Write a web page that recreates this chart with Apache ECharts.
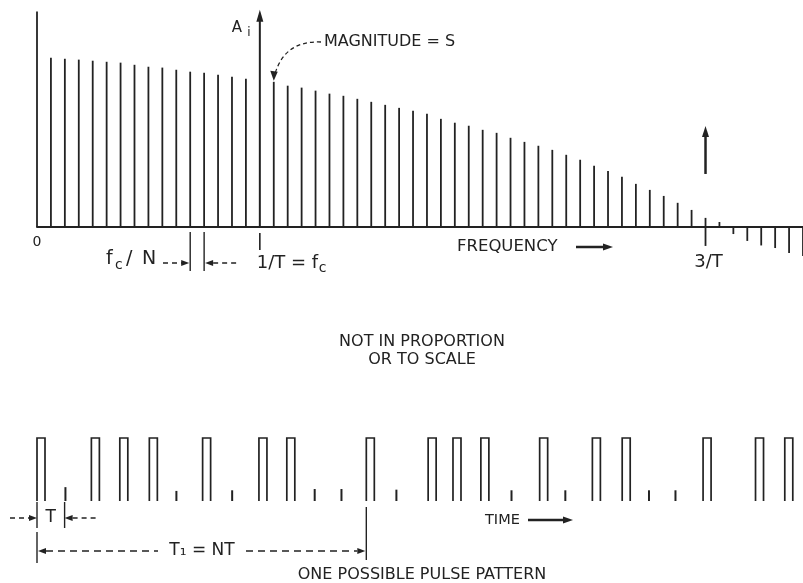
<!DOCTYPE html>
<html><head><meta charset="utf-8">
<script src="https://cdn.jsdelivr.net/npm/echarts@6/dist/echarts.min.js"></script>
<style>html,body{margin:0;padding:0;background:#fff}#c{width:803px;height:583px}</style>
</head><body><div id="c"></div>
<script>
// ---- Spectrum (harmonic index k, in units of fc/N) ----
const harmonicIndex = [0,1,2,3,4,5,6,7,8,9,10,11,12,13,14,15,
  17,18,19,20,21,22,23,24,25,26,27,28,29,30,31,32,33,34,35,36,37,38,39,40,
  41,42,43,44,45,46,47,48,49,50,51,52,53,54,55];
const harmonicAmplitude = [100,78.6,78.1,77.7,77.2,76.7,76.3,75.3,74.4,74.0,73.0,72.1,71.6,70.7,69.8,68.8,
  67.4,65.6,64.7,63.3,61.9,60.9,59.5,58.1,56.7,55.3,54.0,52.6,50.2,48.4,47.0,45.1,43.7,41.4,39.5,37.7,35.8,33.5,31.2,28.4,
  26.0,23.3,20.0,17.2,14.4,11.2,7.9,4.2,2.3,-3.3,-6.5,-8.6,-9.8,-12.1,-13.5];
const FC_INDEX = 16;       // 1/T = fc
const THIRD_INDEX = 48;    // 3/T
const MAGNITUDE_INDEX = 17;
const upArrowRange = [24.6, 46.9];

// ---- Pulse pattern (time, in units of T) ----
const pulseStarts = [0,1.97,3.0,4.07,6.0,8.04,9.05,11.93,14.17,15.07,16.08,18.21,20.12,21.2,24.13,26.03,27.09];
const zeroSlots = [1.03,5.05,7.07,10.06,11.03,13.02,17.19,19.14,22.17,23.13];
const zeroTickHeights = [0.22,0.16,0.17,0.19,0.19,0.18,0.17,0.17,0.17,0.17];
const PULSE_WIDTH = 0.29;
const PERIOD_END_PULSE = 7;

const INK = '#222';
const FONT = '"DejaVu Sans", sans-serif';
const chart = echarts.init(document.getElementById('c'), null, {renderer: 'canvas'});

const spectrum = harmonicIndex.map((k, i) => [k, harmonicAmplitude[i]]);
const pulses = pulseStarts.map(t => [t, 1]);
const zeros = zeroSlots.map((t, i) => [t, zeroTickHeights[i]]);

chart.setOption({
  animation: false,
  backgroundColor: '#fff',
  grid: [
    {left: 37, top: 3, width: 768, height: 267},
    {left: 37, top: 438, width: 766, height: 63}
  ],
  xAxis: [
    {type: 'value', gridIndex: 0, min: 0, max: 55,
     axisLine: {show: true, onZero: true, lineStyle: {color: INK, width: 2}},
     axisTick: {show: false}, axisLabel: {show: false}, splitLine: {show: false}},
    {type: 'value', gridIndex: 1, min: 0, max: 27.75, show: false, splitLine: {show: false}}
  ],
  yAxis: [
    {type: 'value', gridIndex: 0, min: -20, max: 104, show: false, splitLine: {show: false}},
    {type: 'value', gridIndex: 1, min: 0, max: 1, show: false, splitLine: {show: false}}
  ],
  series: [
    {type: 'custom', xAxisIndex: 0, yAxisIndex: 0, data: spectrum, clip: false,
     renderItem: (params, api) => {
       const a = api.coord([api.value(0), 0]);
       const b = api.coord([api.value(0), api.value(1)]);
       return {type: 'line', shape: {x1: a[0], y1: a[1], x2: b[0], y2: b[1]},
               style: {stroke: INK, lineWidth: 1.8}};
     }},
    {type: 'custom', xAxisIndex: 1, yAxisIndex: 1, data: pulses, clip: false,
     renderItem: (params, api) => {
       const t = api.value(0);
       const a = api.coord([t, 0]);
       const b = api.coord([t + PULSE_WIDTH, api.value(1)]);
       return {type: 'polyline',
               shape: {points: [[a[0], a[1]], [a[0], b[1]], [b[0], b[1]], [b[0], a[1]]]},
               style: {stroke: INK, lineWidth: 1.7, fill: null}};
     }},
    {type: 'custom', xAxisIndex: 1, yAxisIndex: 1, data: zeros, clip: false,
     renderItem: (params, api) => {
       const a = api.coord([api.value(0), 0]);
       const b = api.coord([api.value(0), api.value(1)]);
       return {type: 'line', shape: {x1: a[0], y1: a[1], x2: b[0], y2: b[1]},
               style: {stroke: INK, lineWidth: 2}};
     }}
  ]
});

const P = (k, v) => chart.convertToPixel({xAxisIndex: 0, yAxisIndex: 0}, [k, v]);
const Q = (t, v) => chart.convertToPixel({xAxisIndex: 1, yAxisIndex: 1}, [t, v]);
const line = (x1, y1, x2, y2, w, dash) => ({type: 'line', silent: true,
  shape: {x1, y1, x2, y2}, style: {stroke: INK, lineWidth: w || 1.6, lineDash: dash || null}});
const tri = pts => ({type: 'polygon', silent: true, shape: {points: pts}, style: {fill: INK}});
const txt = (s, x, y, size, align) => ({type: 'text', silent: true, x, y,
  style: {text: s, font: size + 'px ' + FONT, fill: INK, align: align || 'left', verticalAlign: 'middle',
          textAlign: align || 'left', textVerticalAlign: 'middle'}});

const g = [];
const base = P(0, 0);
const yb = base[1];
const ax = P(FC_INDEX, 0)[0];
const tipY = P(FC_INDEX, 100.9)[1];
// A_i axis
g.push(line(ax, yb, ax, tipY + 8, 2));
g.push(tri([[ax, tipY], [ax - 3.5, tipY + 12], [ax + 3.5, tipY + 12]]));
g.push(txt('A', ax - 23, 28, 15, 'center'));
g.push(txt('i', ax - 11, 33, 12, 'center'));
// magnitude annotation
const mt = P(MAGNITUDE_INDEX, harmonicAmplitude[harmonicIndex.indexOf(MAGNITUDE_INDEX)]);
g.push(txt('MAGNITUDE = S', 324, 42, 16));
g.push({type: 'bezierCurve', silent: true,
  shape: {x1: 321, y1: 42, x2: mt[0] + 1.5, y2: mt[1] - 9, cpx1: 296, cpy1: 41, cpx2: 282, cpy2: 52},
  style: {stroke: INK, lineWidth: 1.3, lineDash: [4, 3], fill: null}});
g.push(tri([[mt[0], mt[1] - 1], [mt[0] - 3.5, mt[1] - 11], [mt[0] + 4, mt[1] - 10]]));
// ticks below axis
g.push(line(ax, yb + 6, ax, yb + 23, 1.6));
const x48 = P(THIRD_INDEX, 0)[0];
g.push(line(x48, yb, x48, yb + 19, 1.8));
const x11 = P(11, 0)[0], x12 = P(12, 0)[0];
g.push(line(x11, yb + 5, x11, yb + 44, 1.4));
g.push(line(x12, yb + 5, x12, yb + 44, 1.4));
// labels
g.push(txt('0', base[0], yb + 15, 14, 'center'));
g.push(txt('f', 106, 259, 19));
g.push(txt('c', 115, 265, 14));
g.push(txt('/', 126, 259, 19));
g.push(txt('N', 142, 259, 19));
g.push(line(163, 263, 184, 263, 1.3, [5, 4]));
g.push(tri([[x11 - 1, 263], [x11 - 9, 260], [x11 - 9, 266]]));
g.push(tri([[x12 + 1, 263], [x12 + 9, 260], [x12 + 9, 266]]));
g.push(line(x12 + 9, 263, 237, 263, 1.3, [5, 4]));
g.push(txt('1/T = f', ax - 3, 263, 18));
g.push(txt('c', ax + 59, 268, 14));
g.push(txt('FREQUENCY', 457, 247, 16.5));
g.push(line(576, 247, 605, 247, 2.5));
g.push(tri([[613, 247], [603, 243.5], [603, 250.5]]));
g.push(txt('3/T', x48 + 3, 262, 18, 'center'));
// up arrow at 3/T
const ua0 = P(THIRD_INDEX, upArrowRange[0])[1], ua1 = P(THIRD_INDEX, upArrowRange[1])[1];
g.push(line(x48, ua0, x48, ua1 + 9, 2.5));
g.push(tri([[x48, ua1], [x48 - 3.5, ua1 + 11], [x48 + 3.5, ua1 + 11]]));
// note
g.push(txt('NOT IN PROPORTION', 422, 342, 16, 'center'));
g.push(txt('OR TO SCALE', 422, 360, 16, 'center'));

// bottom annotations
const b0 = Q(0, 0);
const xT = Q(1, 0)[0];
const xN = Q(pulseStarts[PERIOD_END_PULSE], 0)[0];
g.push(line(b0[0], b0[1] + 1, b0[0], b0[1] + 27, 1.4));
g.push(line(xT, b0[1] + 1, xT, b0[1] + 27, 1.4));
g.push(line(10, 518, b0[0] - 8, 518, 1.3, [5, 4]));
g.push(tri([[b0[0], 518], [b0[0] - 8, 515], [b0[0] - 8, 521]]));
g.push(txt('T', (b0[0] + xT) / 2, 518, 17, 'center'));
g.push(tri([[xT, 518], [xT + 8, 515], [xT + 8, 521]]));
g.push(line(xT + 8, 518, 97, 518, 1.3, [5, 4]));
g.push(line(b0[0], b0[1] + 31, b0[0], b0[1] + 62, 1.4));
g.push(tri([[b0[0] + 1, 551], [b0[0] + 9, 548], [b0[0] + 9, 554]]));
g.push(line(b0[0] + 9, 551, 158, 551, 1.3, [7, 5]));
g.push(txt('T\u2081 = NT', 202, 551, 17, 'center'));
g.push(line(246, 551, xN - 9, 551, 1.3, [7, 5]));
g.push(tri([[xN - 1, 551], [xN - 9, 548], [xN - 9, 554]]));
g.push(line(xN, b0[1] + 6, xN, b0[1] + 59, 1.4));
g.push(txt('TIME', 485, 520, 14.5));
g.push(line(528, 520, 565, 520, 2.5));
g.push(tri([[573, 520], [563, 516.5], [563, 523.5]]));
g.push(txt('ONE POSSIBLE PULSE PATTERN', 422, 575, 16, 'center'));

chart.setOption({graphic: g});
</script></body></html>
